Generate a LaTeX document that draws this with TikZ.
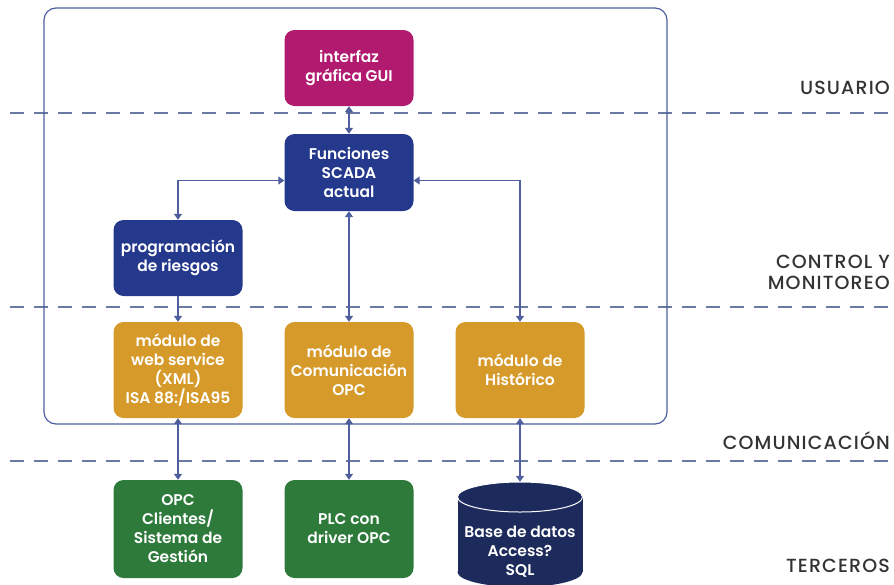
\documentclass[tikz,border=0pt]{standalone}
\usepackage{fontspec}
\setmainfont{Poppins}
\newfontfamily\labfont{Poppins Medium}[LetterSpace=6]
\newfontfamily\boxfont{Poppins SemiBold}
\usetikzlibrary{shapes.geometric,arrows.meta}
\definecolor{guic}{HTML}{B11A6E}
\definecolor{bluec}{HTML}{25398C}
\definecolor{orangec}{HTML}{D69A2B}
\definecolor{greenc}{HTML}{2D7A3B}
\definecolor{navyc}{HTML}{1D2A5C}
\definecolor{linec}{HTML}{4F5F9E}
\definecolor{dashc}{HTML}{6A7AA2}
\definecolor{labc}{HTML}{333333}
\begin{document}
\begin{tikzpicture}[x=1pt,y=-1pt,
  box/.style={rounded corners=10pt, minimum width=129pt, minimum height=76pt, text=white,
    font=\boxfont\fontsize{15.5}{19}\selectfont, align=center, inner sep=1pt},
  tallbox/.style={box, minimum height=96pt},
  tip/.tip={Triangle[width=8pt,length=6pt]},
  link/.style={draw=linec, line width=1.3pt, tip-tip},
  onelink/.style={draw=linec, line width=1.3pt, -tip},
  layer/.style={draw=dashc, line width=1.5pt, dash pattern=on 14pt off 10pt},
  lab/.style={text=labc, font=\labfont\fontsize{19}{21}\selectfont, anchor=east, align=right, inner sep=0pt}
]
\useasboundingbox (0,0) rectangle (894,584);

% layer separators
\coordinate (l1a) at (10,113); \coordinate (l1b) at (894,113);
\coordinate (l2a) at (10,307); \coordinate (l2b) at (894,307);
\coordinate (l3a) at (10,461); \coordinate (l3b) at (894,461);
\draw[layer] (l1a) -- (l1b);
\draw[layer] (l2a) -- (l2b);
\draw[layer] (l3a) -- (l3b);

% outer frame
\coordinate (fa) at (44,8); \coordinate (fb) at (667,424);
\draw[draw=linec, line width=1.2pt, rounded corners=12pt] (fa) rectangle (fb);

% layer labels
\node[lab] (usuario) at (890,88) {USUARIO};
\node[lab] (control) at (890,272) {CONTROL Y\\MONITOREO};
\node[lab] (comunic) at (890,441) {COMUNICACIÓN};
\node[lab] (terceros) at (890,566) {TERCEROS};

% nodes
\node[box, fill=guic] (gui) at (349,68) {interfaz\\gráfica GUI};
\node[box, fill=bluec, minimum height=77pt] (scada) at (349,172.5) {Funciones\\SCADA\\actual};
\node[box, fill=bluec] (prog) at (178,258) {programación\\de riesgos};
\node[tallbox, fill=orangec] (web) at (178,370) {módulo de\\web service\\(XML)\\ISA 88:/ISA95};
\node[tallbox, fill=orangec] (opc) at (349,370) {módulo de\\Comunicación\\OPC};
\node[tallbox, fill=orangec] (hist) at (520,370) {módulo de\\Histórico};
\node[box, fill=greenc, minimum height=98pt] (cli) at (178,529) {OPC\\Clientes/\\Sistema de\\Gestión};
\node[box, fill=greenc, minimum height=98pt] (plc) at (349,529) {PLC con\\driver OPC};

% database cylinder
\coordinate (dbt) at (520,497);
\coordinate (dbb) at (520,572);
\coordinate (dbl) at (457.5,497);
\coordinate (dbr) at (582.5,572);
\fill[navyc] (dbl) rectangle (dbr);
\fill[navyc] (dbb) ellipse [x radius=62.5pt, y radius=15pt];
\filldraw[fill=navyc, draw=white, line width=1pt] (dbt) ellipse [x radius=62.5pt, y radius=15pt];
\node[inner sep=0pt, minimum width=125pt, minimum height=30pt] (db) at (dbt) {};
\node[text=white, font=\boxfont\fontsize{15.5}{19}\selectfont, align=center] (dbtext) at (520,552) {Base de datos\\Access?\\SQL};

% connectors
\draw[link] (gui.south) -- (scada.north);
\draw[link] ([yshift=-8pt]scada.west) -| (prog.north);
\draw[link] ([yshift=-8pt]scada.east) -| (hist.north);
\draw[link] (scada.south) -- (opc.north);
\draw[onelink] (prog.south) -- (web.north);
\draw[link] (web.south) -- (cli.north);
\draw[link] (opc.south) -- (plc.north);
\draw[link] (hist.south) -- (db.north);
\end{tikzpicture}
\end{document}
